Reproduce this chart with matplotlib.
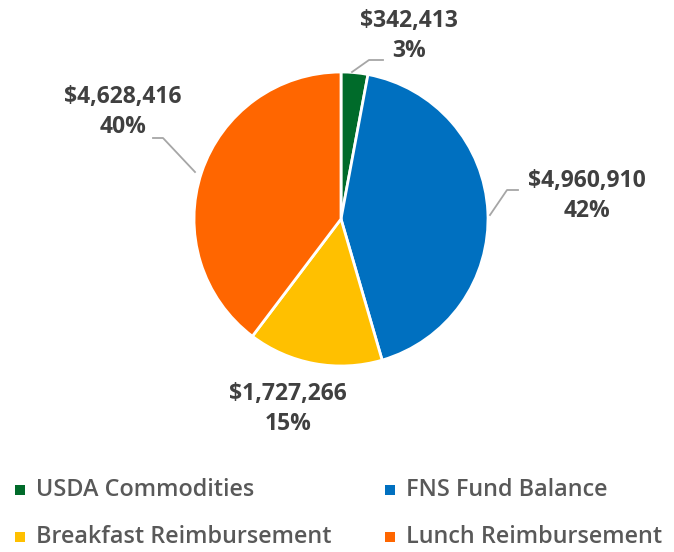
import matplotlib
matplotlib.use("Agg")
import matplotlib.pyplot as plt
from matplotlib.patches import Rectangle

# =================
# DANE
# =================
kategorie = ["USDA Commodities", "FNS Fund Balance",
             "Breakfast Reimbursement", "Lunch Reimbursement"]
kwoty = [342413, 4960910, 1727266, 4628416]
procenty = [3, 42, 15, 40]
kolory = ["#006B2A", "#0070C0", "#FFC000", "#FF6600"]

# pozycje etykiet (piksele, od lewego górnego rogu) i łamane linie
etykiety_xy = [(409, 36), (587, 196), (288, 409), (123, 112)]
linie = [
    [(352, 72), (369, 60), (383, 60)],
    [(490, 215), (507, 190), (518, 190)],
    None,
    [(195, 172), (163, 138), (153, 138)],
]

# legenda: (x kwadratu, y środka wiersza)
legenda_xy = [(15, 490), (385, 490), (15, 537), (385, 537)]

W, H = 674, 552
TEKST = "#404040"

plt.rcParams["font.family"] = ["Open Sans", "DejaVu Sans"]

fig = plt.figure(figsize=(W / 100, H / 100), dpi=100)
ax = fig.add_axes([0, 0, 1, 1])

ax.pie(kwoty, colors=kolory, startangle=90, counterclock=False,
       center=(341, H - 219), radius=147,
       wedgeprops=dict(edgecolor="white", linewidth=2))
ax.set_xlim(0, W)
ax.set_ylim(0, H)
ax.set_aspect("equal")
ax.axis("off")

for k, p, (x, y), l in zip(kwoty, procenty, etykiety_xy, linie):
    ax.text(x, H - y, f"${k:,}\n{p}%", ha="center", va="center",
            fontsize=16.5, fontweight="bold", color=TEKST, linespacing=1.33)
    if l:
        ax.plot([q[0] for q in l], [H - q[1] for q in l],
                color="#A6A6A6", lw=1.3)

# legenda rysowana ręcznie
for nazwa, kol, (x, y) in zip(kategorie, kolory, legenda_xy):
    ax.add_patch(Rectangle((x, H - y - 5), 10, 10, facecolor=kol,
                           edgecolor="none", clip_on=False))
    ax.text(x + 21, H - y, nazwa, ha="left", va="center", fontsize=16.8,
            fontweight="semibold", color="#595959")

fig.savefig("out.png", dpi=100)
